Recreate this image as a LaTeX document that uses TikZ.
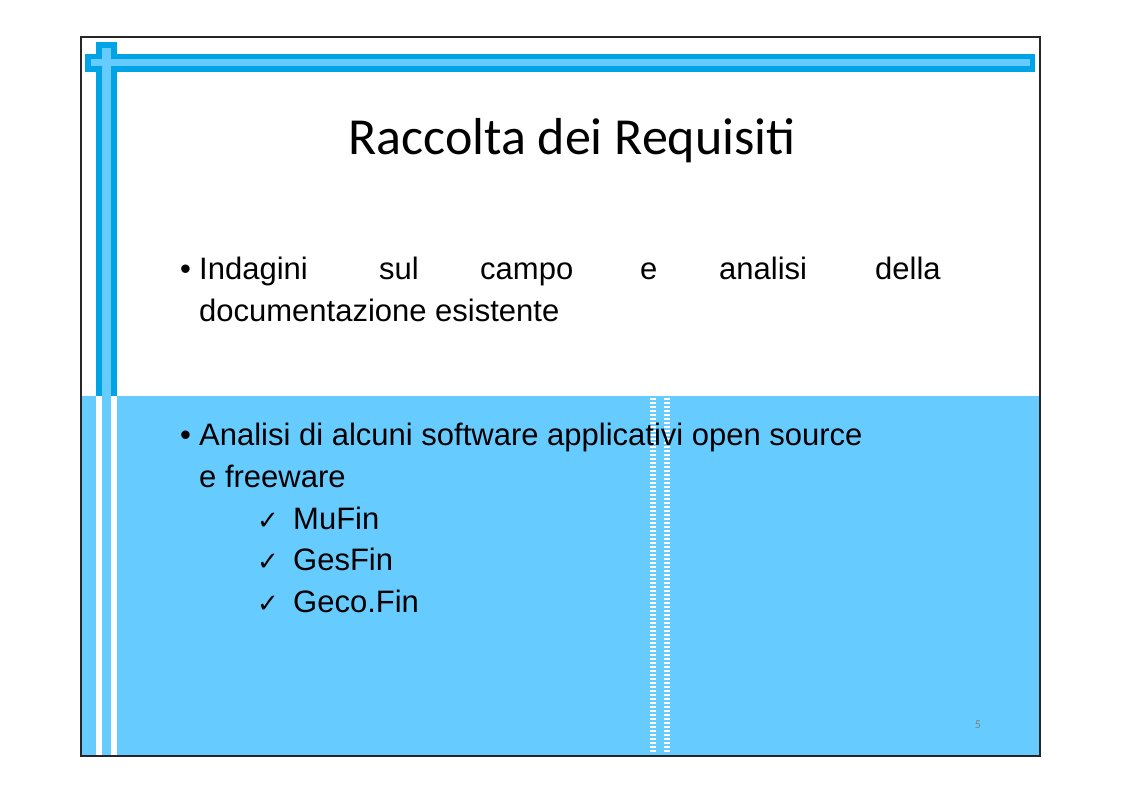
\documentclass[tikz,border=0pt]{standalone}
\usepackage{fontspec}
\setmainfont{Liberation Sans}
\newfontfamily\titlefont{Carlito}
\newfontfamily\symfont{DejaVu Sans}
\definecolor{dblue}{HTML}{00A3E6}
\definecolor{lblue}{HTML}{66CCFF}
\begin{document}
\begin{tikzpicture}[x=1pt,y=-1pt,
  body/.style={anchor=base west,inner sep=0pt,font=\fontsize{31}{37}\selectfont},
  chk/.style={anchor=base west,inner sep=0pt,font=\symfont\fontsize{26}{30}\selectfont}]
\useasboundingbox (0,0) rectangle (1123,794);
\fill[white] (0,0) rectangle (1123,794);
% lower blue area
\fill[lblue] (81,396) rectangle (1040,756);
\fill[white] (96,396) rectangle (102,756);
\fill[white] (111,396) rectangle (117,756);
% dashed stripes
\foreach \yy in {398,402,...,752}{
  \fill[white] (650,\yy) rectangle (656,\yy+1.6);
  \fill[white] (664,\yy) rectangle (670,\yy+1.6);
}
% bars
\fill[dblue] (96,42) rectangle (117,396);
\fill[dblue] (85,54) rectangle (1035,72);
\fill[lblue] (102,48) rectangle (111,396);
\fill[lblue] (91,59) rectangle (1030,66);
% frame
\draw[line width=1.2pt,black!85] (81,37) rectangle (1040,756);
% title
\node[anchor=base,inner sep=0pt,font=\titlefont\fontsize{52}{60}\selectfont] (title) at (572,155) {Raccolta dei Requisiti};
% first bullet
\node[body] (b1) at (180,279) {\textbullet};
\node[body] (w1) at (199,279) {Indagini};
\node[body] (w2) at (379,279) {sul};
\node[body] (w3) at (480,279) {campo};
\node[body] (w4) at (640,279) {e};
\node[body] (w5) at (719,279) {analisi};
\node[body] (w6) at (875,279) {della};
\node[body] (l2) at (199,321) {documentazione esistente};
% second bullet
\node[body] (b2) at (180,445) {\textbullet};
\node[body] (m1) at (199,445) {Analisi di alcuni software applicativi open source};
\node[body] (m2) at (199,487) {e freeware};
\node[chk] (c1) at (257,529) {✓};
\node[body] (s1) at (293,529) {MuFin};
\node[chk] (c2) at (257,570) {✓};
\node[body] (s2) at (293,570) {GesFin};
\node[chk] (c3) at (257,612) {✓};
\node[body] (s3) at (293,612) {Geco.Fin};
\node[anchor=base,inner sep=0pt,text=gray,font=\titlefont\fontsize{12}{14}\selectfont] (num) at (978,728) {5};
\end{tikzpicture}
\end{document}
